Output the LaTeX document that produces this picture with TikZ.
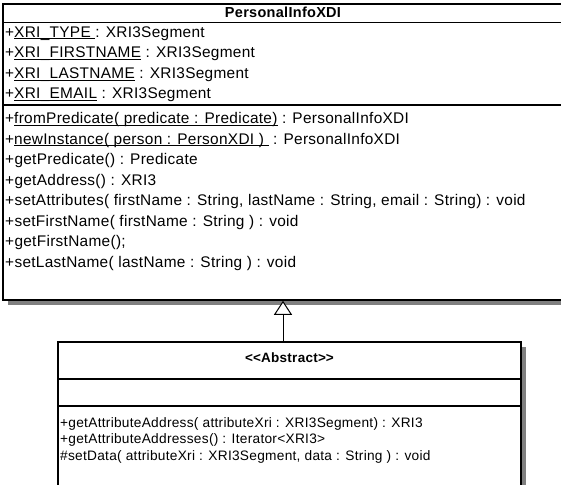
\documentclass[tikz,border=0pt]{standalone}
\usepackage{fontspec}
\setmainfont{Liberation Sans}[LetterSpace=2]
\usetikzlibrary{arrows.meta,calc}
% underline sitting just under the baseline
\newcommand{\udl}[1]{\setbox0\hbox{#1}\rlap{\rule[-1.8pt]{\wd0}{0.8pt}}\box0\relax}
\begin{document}
\begin{tikzpicture}[x=1pt,y=-1pt,
  classbox/.style={draw=black,line width=1.6pt,fill=white,inner sep=0pt,outer sep=auto},
  boxshadow/.style={fill=black!50,draw=none},
  sep/.style={draw=black,line width=1.4pt},
  row/.style={anchor=base west,inner sep=0pt,font=\fontsize{15.4}{17}\selectfont},
  head/.style={anchor=base,inner sep=0pt,font=\fontsize{14.5}{17}\selectfont\bfseries},
  subrow/.style={row,font=\fontsize{13.7}{15}\selectfont},
  subhead/.style={head,font=\fontsize{13.5}{15}\selectfont\bfseries},
  gen/.style={draw=black,line width=1pt,-{Triangle[length=14pt,width=18pt,fill=white]}}]
\useasboundingbox (0,0) rectangle (561,484);

% superclass
\fill[boxshadow] (8,9) rectangle (568,305);
\node[classbox,minimum width=560pt,minimum height=296pt] (super) at (283,152) {};
\draw[sep] (3,22.5) -- (563,22.5);
\draw[sep] (3,105) -- (563,105);
\node[head] (stitle) at (283,18) {PersonalInfoXDI};
\node[row] (a1) at (5,37.5) {+\udl{XRI\_TYPE }: XRI3Segment};
\node[row] (a2) at (5,58) {+\udl{XRI\_FIRSTNAME} : XRI3Segment};
\node[row] (a3) at (5,78.5) {+\udl{XRI\_LASTNAME} : XRI3Segment};
\node[row] (a4) at (5,99) {+\udl{XRI\_EMAIL} : XRI3Segment};
\node[row] (m1) at (5,123.5) {+\udl{fromPredicate( predicate : Predicate)} : PersonalInfoXDI};
\node[row] (m2) at (5,144) {+\udl{newInstance( person : PersonXDI ) }\ : PersonalInfoXDI};
\node[row] (m3) at (5,164.5) {+getPredicate() : Predicate};
\node[row] (m4) at (5,185) {+getAddress() : XRI3};
\node[row] (m5) at (5,205.5) {+setAttributes( firstName : String, lastName : String, email : String) : void};
\node[row] (m6) at (5,226) {+setFirstName( firstName : String ) : void};
\node[row] (m7) at (5,246.5) {+getFirstName();};
\node[row] (m8) at (5,267) {+setLastName( lastName : String ) : void};

% abstract subclass
\fill[boxshadow] (63,347) rectangle (526,510);
\node[classbox,minimum width=463pt,minimum height=158pt] (sub) at (289.5,421) {};
\draw[sep] (58,379) -- (521,379);
\draw[sep] (58,406) -- (521,406);
\node[subhead] (btitle) at (289.5,362) {<\kern0pt<Abstract>\kern0pt>};
\node[subrow] (b1) at (60,427) {+getAttributeAddress( attributeXri : XRI3Segment) : XRI3};
\node[subrow] (b2) at (60,443.5) {+getAttributeAddresses() : Iterator<XRI3>};
\node[subrow] (b3) at (60,460) {\#setData( attributeXri : XRI3Segment, data : String ) : void};

% generalization
\draw[gen] (sub.north -| super.south) -- (super.south);
\end{tikzpicture}
\end{document}
